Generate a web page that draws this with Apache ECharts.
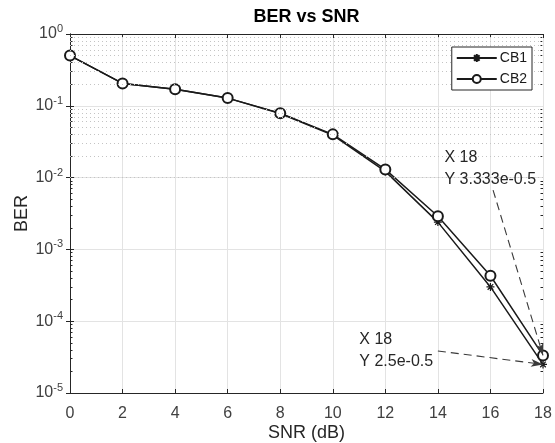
<!DOCTYPE html>
<html>
<head>
<meta charset="utf-8">
<script src="https://cdn.jsdelivr.net/npm/echarts@6/dist/echarts.min.js"></script>
<style>html,body{margin:0;padding:0;background:#fff}#c{width:555px;height:443px}</style>
</head>
<body>
<div id="c"></div>
<script>
// ---- data ----
var snr = [0, 2, 4, 6, 8, 10, 12, 14, 16, 18];
var cb1 = [0.5, 0.205, 0.17, 0.128, 0.078, 0.039, 0.0122, 0.0024, 0.0003, 2.5e-5];
var cb2 = [0.5, 0.205, 0.17, 0.128, 0.079, 0.040, 0.0130, 0.0029, 0.00043, 3.333e-5];
var xTicks = [0, 2, 4, 6, 8, 10, 12, 14, 16, 18];
var yDecades = [1e-5, 1e-4, 1e-3, 1e-2, 1e-1, 1];
var seriesNames = ['CB1', 'CB2'];
var annoText = ['X 18\nY 3.333e-0.5', 'X 18\nY 2.5e-0.5'];

var FONT = '"Liberation Sans", Arial, Helvetica, sans-serif';
var star = 'path://M0,-5L0,5M-5,0L5,0M-3.5,-3.5L3.5,3.5M-3.5,3.5L3.5,-3.5';

function pairs(xs, ys) { return xs.map(function (x, i) { return [x, ys[i]]; }); }

// minor grid values (2..9 x each decade)
var minor = [];
for (var e = -5; e < 0; e++) for (var m = 2; m <= 9; m++) minor.push(m * Math.pow(10, e));

var chart = echarts.init(document.getElementById('c'));
var axisCol = '#262626';
function minorAxis(pos) {
  return {
    type: 'log', logBase: 10, min: 1e-5, max: 1, position: pos,
    axisLine: { show: false },
    axisTick: { show: true, inside: true, length: 2.5, customValues: minor, lineStyle: { color: axisCol } },
    axisLabel: { show: false },
    splitLine: { show: false }
  };
}
chart.setOption({
  animation: false,
  backgroundColor: '#fff',
  textStyle: { fontFamily: FONT },
  grid: { left: 70, right: 12, top: 34, bottom: 50, outerBoundsMode: 'none', containLabel: false },
  legend: {
    data: seriesNames,
    orient: 'vertical',
    right: 23, top: 47, z: 20,
    backgroundColor: '#fff',
    borderColor: axisCol, borderWidth: 1,
    padding: [4, 5, 4, 4],
    itemGap: 7, itemWidth: 40, itemHeight: 10,
    textStyle: { fontFamily: FONT, fontSize: 14, color: '#1a1a1a', padding: [0, 0, 0, -2] }
  },
  xAxis: [{
    type: 'value', min: 0, max: 18, interval: 2, position: 'bottom',
    name: 'SNR (dB)', nameLocation: 'middle', nameGap: 31, nameMoveOverlap: false,
    nameTextStyle: { fontFamily: FONT, fontSize: 18, color: '#262626' },
    axisLine: { show: true, lineStyle: { color: axisCol, width: 1 } },
    axisTick: { show: true, inside: true, length: 4, lineStyle: { color: axisCol } },
    axisLabel: { fontFamily: FONT, fontSize: 16, color: '#404040', margin: 13 },
    splitLine: { show: true, lineStyle: { color: '#e3e3e3', width: 1 } }
  }, {
    type: 'value', min: 0, max: 18, interval: 2, position: 'top',
    name: 'BER vs SNR', nameLocation: 'middle', nameGap: 8,
    nameTextStyle: { fontFamily: FONT, fontSize: 18, fontWeight: 'bold', color: '#000' },
    axisLine: { show: true, lineStyle: { color: axisCol, width: 1 } },
    axisTick: { show: true, inside: true, length: 4, lineStyle: { color: axisCol } },
    axisLabel: { show: false },
    splitLine: { show: false }
  }],
  yAxis: [{
    type: 'log', logBase: 10, min: 1e-5, max: 1, position: 'left',
    name: 'BER', nameLocation: 'middle', nameGap: 39, nameMoveOverlap: false,
    nameTextStyle: { fontFamily: FONT, fontSize: 18, color: '#262626' },
    axisLine: { show: true, lineStyle: { color: axisCol, width: 1 } },
    axisTick: { show: true, inside: true, length: 4, lineStyle: { color: axisCol } },
    axisLabel: {
      margin: 7,
      formatter: function (v) {
        var ex = Math.round(Math.log10(v));
        return '{b|10}{s|' + ex + '}';
      },
      rich: {
        b: { fontFamily: FONT, fontSize: 16, color: '#404040' },
        s: { fontFamily: FONT, fontSize: 11, color: '#404040', padding: [0, 0, 10, 0] }
      }
    },
    splitLine: { show: true, lineStyle: { color: '#e3e3e3', width: 1 } }
  }, {
    type: 'log', logBase: 10, min: 1e-5, max: 1, position: 'right',
    axisLine: { show: true, lineStyle: { color: axisCol, width: 1 } },
    axisTick: { show: true, inside: true, length: 4, lineStyle: { color: axisCol } },
    axisLabel: { show: false },
    splitLine: { show: false }
  }, minorAxis('left'), minorAxis('right')],
  series: [{
    name: '_grid', type: 'line', data: [], silent: true, z: 0,
    markLine: {
      silent: true, symbol: ['none', 'none'], label: { show: false },
      lineStyle: { color: '#c4c4c4', type: [1, 3], width: 1 },
      data: minor.map(function (v) { return { yAxis: v }; })
    }
  }, {
    name: seriesNames[0], type: 'line', data: pairs(snr, cb1), z: 3,
    symbol: star, symbolSize: 8,
    lineStyle: { color: '#1a1a1a', width: 1.5 },
    itemStyle: { color: '#1a1a1a', borderColor: '#1a1a1a', borderWidth: 1.2 },
    markLine: {
      silent: true, symbol: ['none', 'arrow'], symbolSize: [6, 12],
      label: { show: false },
      lineStyle: { color: '#3a3a3a', type: [8, 5], width: 1.1 },
      data: [[{ coord: [14.0, 3.85e-5] }, { coord: [snr[9], cb1[9]] }]]
    },
    markPoint: {
      silent: true, symbol: 'circle', symbolSize: 1,
      itemStyle: { color: 'rgba(0,0,0,0)' },
      label: { show: true, position: [0, 0], align: 'left', verticalAlign: 'top',
        fontFamily: FONT, fontSize: 16, color: '#262626', lineHeight: 22,
        formatter: function () { return annoText[1]; } },
      data: [{ coord: [11.03, 7.8e-5] }]
    }
  }, {
    name: seriesNames[1], type: 'line', data: pairs(snr, cb2), z: 3,
    symbol: 'emptyCircle', symbolSize: 10,
    lineStyle: { color: '#1a1a1a', width: 1.5 },
    itemStyle: { color: '#1a1a1a', borderColor: '#1a1a1a', borderWidth: 1.2 },
    markLine: {
      silent: true, symbol: ['none', 'arrow'], symbolSize: [6, 12],
      label: { show: false },
      lineStyle: { color: '#3a3a3a', type: [8, 5], width: 1.1 },
      data: [[{ coord: [16.1, 6.7e-3] }, { coord: [snr[9], cb2[9]] }]]
    },
    markPoint: {
      silent: true, symbol: 'circle', symbolSize: 1,
      itemStyle: { color: 'rgba(0,0,0,0)' },
      label: { show: true, position: [0, 0], align: 'left', verticalAlign: 'top',
        fontFamily: FONT, fontSize: 16, color: '#262626', lineHeight: 22,
        formatter: function () { return annoText[0]; } },
      data: [{ coord: [14.27, 0.0267] }]
    }
  }]
});
</script>
</body>
</html>
